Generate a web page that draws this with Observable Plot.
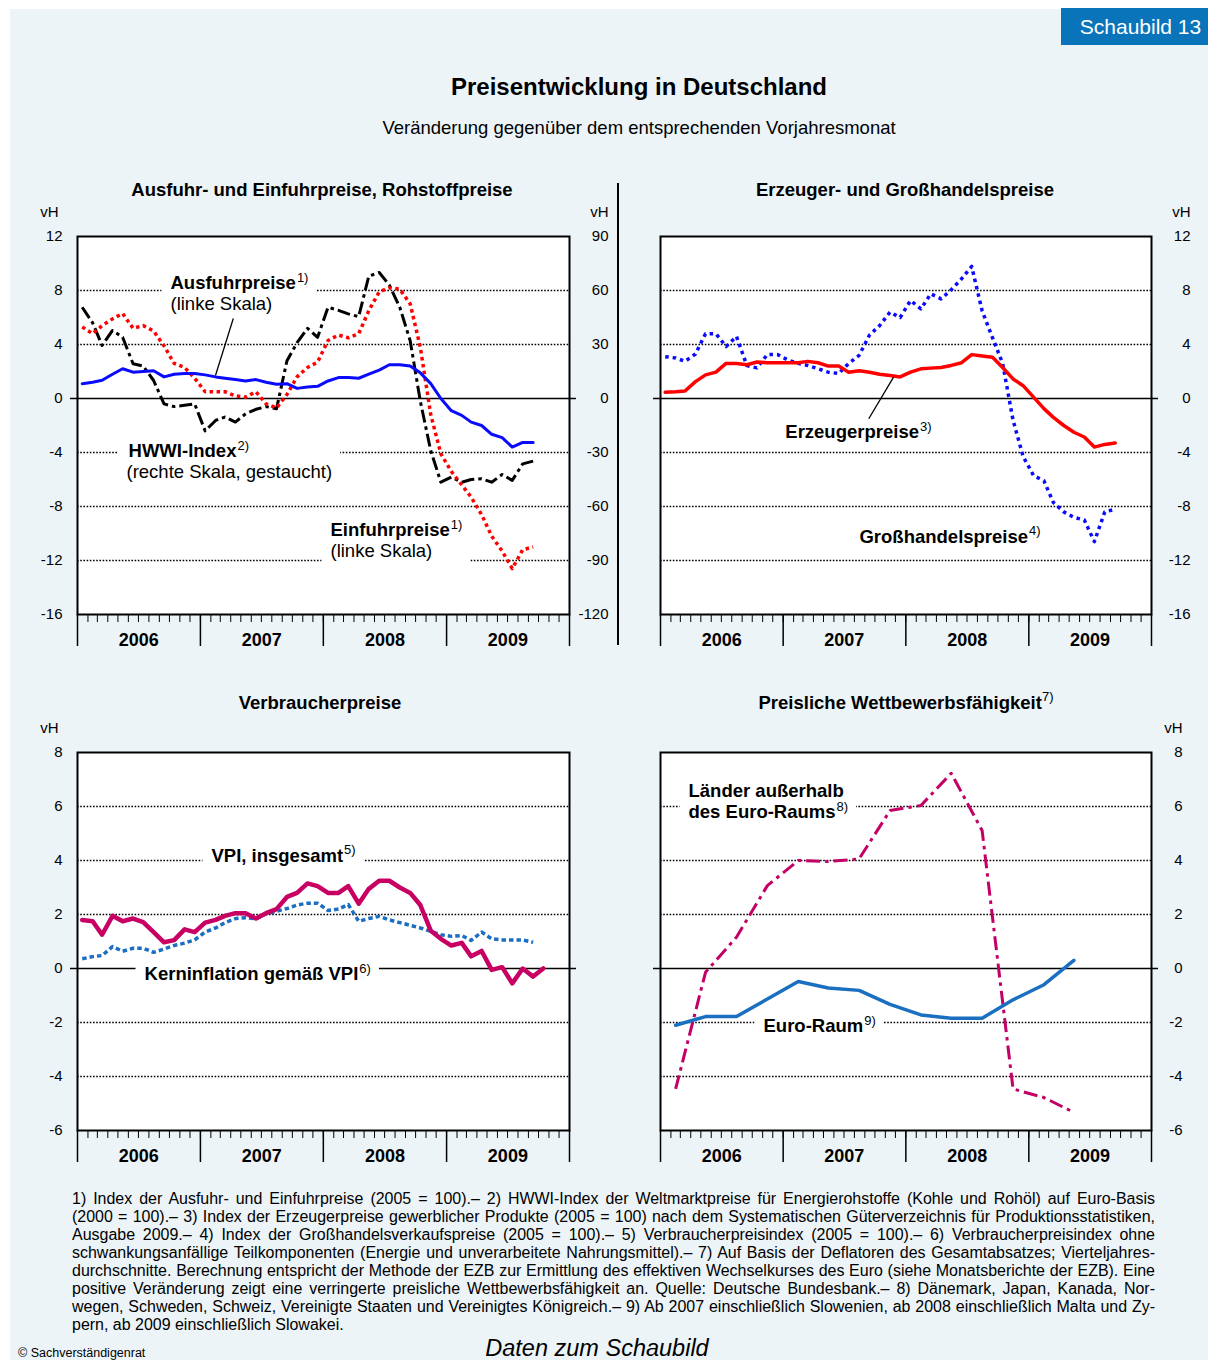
<!DOCTYPE html>
<html lang="de">
<head>
<meta charset="utf-8">
<title>Preisentwicklung in Deutschland</title>
<script src="https://cdn.jsdelivr.net/npm/d3@7"></script>
<script src="https://cdn.jsdelivr.net/npm/@observablehq/plot@0.6"></script>
<style>
  html, body { margin: 0; padding: 0; background: #fff; }
  body { font-family: "Liberation Sans", Arial, Helvetica, sans-serif; color: #000; }
  #page { position: relative; width: 1208px; height: 1360px; overflow: hidden; background: #fff; }
  #bg { position: absolute; left: 10px; top: 9px; width: 1198px; height: 1351px; background: #ecf4f8; }
  .abs { position: absolute; line-height: 1; white-space: nowrap; }
  #badge { position: absolute; left: 1061px; top: 8px; width: 147px; height: 37px; background: #0a74ba; color: #fff; font-size: 21px; line-height: 37px; text-align: center; box-sizing: border-box; padding-left: 12px; }
  #title { left: 239px; width: 800px; top: 74.7px; font-size: 24px; font-weight: bold; text-align: center; }
  #subtitle { left: 239px; width: 800px; top: 119.3px; font-size: 18.5px; text-align: center; }
  .ptitle { width: 600px; font-size: 18.5px; font-weight: bold; text-align: center; }
  .ptitle sup { font-size: 13px; font-weight: normal; vertical-align: 0; position: relative; top: -8px; }
  #sep { position: absolute; left: 617px; top: 183px; width: 1.5px; height: 462px; background: #000; }
  .panel { position: absolute; }
  #notes { position: absolute; left: 72px; top: 1190px; width: 1083px; font-size: 15px; color: #000; }
  .nl { height: 18px; line-height: 18px; overflow: visible; }
  .nl.measure { white-space: nowrap; }
  .nl.j { text-align: justify; text-align-last: justify; }
  #copy { left: 18px; top: 1347.4px; font-size: 12.5px; }
  #daten { left: 397px; width: 400px; top: 1336.5px; font-size: 23.5px; font-style: italic; text-align: center; }
</style>
</head>
<body>
<div id="page">
  <div id="bg"></div>
  <div id="badge">Schaubild 13</div>
  <div id="title" class="abs">Preisentwicklung in Deutschland</div>
  <div id="subtitle" class="abs">Veränderung gegenüber dem entsprechenden Vorjahresmonat</div>
  <div class="abs ptitle" style="left:22px;top:181.3px;">Ausfuhr- und Einfuhrpreise, Rohstoffpreise</div>
  <div class="abs ptitle" style="left:605px;top:181.3px;">Erzeuger- und Großhandelspreise</div>
  <div class="abs ptitle" style="left:20px;top:694.3px;">Verbraucherpreise</div>
  <div class="abs ptitle" style="left:606px;top:694.3px;">Preisliche Wettbewerbsfähigkeit<sup>7)</sup></div>
  <div id="sep"></div>
  <div id="p1" class="panel" style="left:0px;top:200px;"></div>
  <div id="p2" class="panel" style="left:620px;top:200px;"></div>
  <div id="p3" class="panel" style="left:0px;top:716px;"></div>
  <div id="p4" class="panel" style="left:620px;top:716px;"></div>
  <div id="notes"></div>
  <div id="copy" class="abs">© Sachverständigenrat</div>
  <div id="daten" class="abs">Daten zum Schaubild</div>
</div>
<script>
// ---------------- data ----------------
const yearLabels = ["2006", "2007", "2008", "2009"];
const ticksTop = [12, 8, 4, 0, -4, -8, -12, -16];
const ticksHWWI = [90, 60, 30, 0, -30, -60, -90, -120];
const ticksBottom = [8, 6, 4, 2, 0, -2, -4, -6];
const gridTop = [8, 4, -4, -8, -12];
const gridBottom = [6, 4, 2, -2, -4];

// monthly, Jan 2006 ... (vH)
const ausfuhr = [1.1, 1.2, 1.35, 1.8, 2.2, 1.95, 2.0, 2.05, 1.6, 1.8, 1.85, 1.85,
  1.75, 1.6, 1.5, 1.4, 1.3, 1.4, 1.2, 1.05, 1.1, 0.75, 0.85, 0.9,
  1.3, 1.55, 1.55, 1.5, 1.8, 2.1, 2.5, 2.5, 2.4, 1.9, 1.1, 0.0,
  -0.9, -1.25, -1.75, -2.0, -2.65, -2.9, -3.6, -3.25, -3.25];
const einfuhr = [5.3, 4.8, 5.4, 5.9, 6.3, 5.2, 5.4, 5.0, 3.9, 2.6, 2.3, 1.5,
  0.5, 0.5, 0.5, 0.2, 0.1, 0.5, -0.4, -0.7, 0.3, 1.6, 2.3, 2.7,
  4.3, 4.7, 4.5, 4.8, 6.5, 7.9, 8.2, 8.1, 7.0, 3.8, -1.2, -4.1,
  -5.4, -6.4, -7.3, -8.6, -10.2, -11.3, -12.6, -11.2, -11.0];
const hwwi = [50.7, 42, 29.5, 37.8, 34, 19.3, 18, 10, -3, -4.5, -3.8, -3,
  -18, -12.2, -10.3, -13.1, -8.5, -6, -4.5, -5.7, 21, 31, 39, 34,
  50.7, 49, 47, 45.5, 68, 70, 63, 50.7, 32, -1.5, -29, -46.5,
  -43.7, -46.5, -45, -44.6, -46.5, -42.2, -45.5, -36.3, -34.8];
const erzeuger = [0.47, 0.5, 0.55, 1.25, 1.75, 1.95, 2.6, 2.6, 2.5, 2.7, 2.65, 2.65,
  2.65, 2.65, 2.75, 2.65, 2.4, 2.4, 1.95, 2.05, 1.95, 1.8, 1.7, 1.6,
  1.95, 2.2, 2.25, 2.3, 2.45, 2.65, 3.25, 3.15, 3.05, 2.3, 1.45, 0.95,
  0.1, -0.75, -1.4, -2.0, -2.5, -2.85, -3.6, -3.4, -3.3];
const grosshandel = [3.1, 3.0, 2.75, 3.3, 4.8, 4.8, 3.85, 4.6, 2.44, 2.27, 3.26, 3.26,
  2.85, 2.6, 2.45, 2.2, 1.95, 1.85, 2.6, 3.2, 4.7, 5.4, 6.4, 6.0,
  7.26, 6.64, 7.75, 7.38, 8.05, 8.87, 9.78, 6.5, 4.5, 2.6, -1.6, -4.3,
  -5.7, -6.1, -7.7, -8.4, -8.8, -9.0, -10.6, -8.4, -8.2];
const vpi = [1.8, 1.75, 1.25, 1.95, 1.75, 1.85, 1.72, 1.35, 0.97, 1.05, 1.45, 1.35,
  1.7, 1.8, 1.95, 2.05, 2.05, 1.85, 2.05, 2.2, 2.65, 2.8, 3.15, 3.05,
  2.8, 2.8, 3.05, 2.4, 2.95, 3.25, 3.25, 3.0, 2.8, 2.35, 1.4, 1.1,
  0.85, 0.95, 0.45, 0.65, -0.05, 0.05, -0.55, 0.0, -0.3, 0.0];
const kern = [0.36, 0.44, 0.48, 0.81, 0.64, 0.75, 0.75, 0.6, 0.72, 0.85, 0.94, 1.06,
  1.35, 1.5, 1.7, 1.85, 1.88, 1.84, 2.03, 2.12, 2.22, 2.35, 2.42, 2.42,
  2.15, 2.2, 2.37, 1.75, 1.85, 1.93, 1.8, 1.7, 1.6, 1.5, 1.38, 1.25,
  1.19, 1.22, 1.04, 1.35, 1.1, 1.06, 1.06, 1.06, 0.97];
// quarterly, 1. Vj 2006 ...
const euroRaum = [-2.1, -1.78, -1.78, -1.13, -0.48, -0.72, -0.81, -1.33, -1.72, -1.84, -1.84, -1.16, -0.6, 0.3];
const aussen = [-4.46, -0.14, 1.16, 3.07, 4.0, 3.96, 4.06, 5.85, 6.04, 7.23, 5.11, -4.46, -4.78, -5.33];

const noteLines = [
  "1) Index der Ausfuhr- und Einfuhrpreise (2005 = 100).– 2) HWWI-Index der Weltmarktpreise für Energierohstoffe (Kohle und Rohöl) auf Euro-Basis",
  "(2000 = 100).– 3) Index der Erzeugerpreise gewerblicher Produkte (2005 = 100) nach dem Systematischen Güterverzeichnis für Produktionsstatistiken,",
  "Ausgabe 2009.– 4) Index der Großhandelsverkaufspreise (2005 = 100).– 5) Verbraucherpreisindex (2005 = 100).– 6) Verbraucherpreisindex ohne",
  "schwankungsanfällige Teilkomponenten (Energie und unverarbeitete Nahrungsmittel).– 7) Auf Basis der Deflatoren des Gesamtabsatzes; Vierteljahres-",
  "durchschnitte. Berechnung entspricht der Methode der EZB zur Ermittlung des effektiven Wechselkurses des Euro (siehe Monatsberichte der EZB). Eine",
  "positive Veränderung zeigt eine verringerte preisliche Wettbewerbsfähigkeit an. Quelle: Deutsche Bundesbank.– 8) Dänemark, Japan, Kanada, Nor-",
  "wegen, Schweden, Schweiz, Vereinigte Staaten und Vereinigtes Königreich.– 9) Ab 2007 einschließlich Slowenien, ab 2008 einschließlich Malta und Zy-",
  "pern, ab 2009 einschließlich Slowakei."
];

// annotation placement (month offset from Jan 2006, value on left scale)
const annP1 = [
  {block: "a", m: 9.07, v: 8.54, label: "Ausfuhrpreise^1)", bold: true},
  {block: "a", m: 9.07, v: 6.99, label: "(linke Skala)", bold: false},
  {block: "h", m: 4.98, v: -3.9, label: "HWWI-Index^2)", bold: true},
  {block: "h", m: 4.78, v: -5.46, label: "(rechte Skala, gestaucht)", bold: false},
  {block: "e", m: 24.68, v: -9.76, label: "Einfuhrpreise^1)", bold: true},
  {block: "e", m: 24.68, v: -11.31, label: "(linke Skala)", bold: false}
];
const linkP1 = [{m1: 15.2, v1: 5.93, m2: 13.46, v2: 1.7}];
const annP2 = [
  {block: "e", m: 12.2, v: -2.5, label: "Erzeugerpreise^3)", bold: true},
  {block: "g", m: 19.45, v: -10.25, label: "Großhandelspreise^4)", bold: true}
];
const linkP2 = [{m1: 20.36, v1: -1.5, m2: 22.8, v2: 1.6}];
const annP3 = [
  {block: "v", m: 13.07, v: 4.17, label: "VPI, insgesamt^5)", bold: true},
  {block: "k", m: 6.54, v: -0.21, label: "Kerninflation gemäß VPI^6)", bold: true}
];
const annP4 = [
  {block: "l", m: 2.74, v: 6.57, label: "Länder außerhalb", bold: true},
  {block: "l", m: 2.74, v: 5.79, label: "des Euro-Raums^8)", bold: true},
  {block: "r", m: 10.07, v: -2.14, label: "Euro-Raum^9)", bold: true}
];

// ---------------- helpers ----------------
const FONT = '"Liberation Sans", Arial, Helvetica, sans-serif';
const T0 = Date.UTC(2006, 0, 1);
const monthDate = i => new Date(Date.UTC(2006, i, 15));
const quarterDate = i => new Date(Date.UTC(2006, 3 * i + 1, 15));
const atMonth = m => new Date(T0 + m * 30.4375 * 864e5);
const rows = (arr, dateFn) => arr.map((v, i) => ({date: dateFn(i), value: v}));
const monthTicks = d3.utcMonths(new Date(Date.UTC(2006, 0, 1)), new Date(Date.UTC(2010, 0, 2)));
const yearStarts = [2006, 2007, 2008, 2009, 2010].map(y => new Date(Date.UTC(y, 0, 1)));

function series(arr, dateFn, style, scale = 1) {
  return Plot.line(rows(arr, dateFn), {x: "date", y: d => d.value / scale, curve: "linear", ...style});
}

function buildPanel(cfg) {
  const tickText = [];
  if (cfg.leftTicks) {
    tickText.push(Plot.text(cfg.leftTicks, {y: d => d / (cfg.leftScale || 1), text: d => String(d), frameAnchor: "left", lineAnchor: "middle", dx: -15, textAnchor: "end", fontSize: 15}));
    tickText.push(Plot.text(["vH"], {text: d => d, frameAnchor: "top-left", lineAnchor: "middle", dx: -19, dy: -24, textAnchor: "end", fontSize: 15}));
  }
  if (cfg.rightTicks) {
    tickText.push(Plot.text(cfg.rightTicks, {y: d => d / (cfg.rightScale || 1), text: d => String(d), frameAnchor: "right", lineAnchor: "middle", dx: cfg.rightDx, textAnchor: "end", fontSize: 15}));
    tickText.push(Plot.text(["vH"], {text: d => d, frameAnchor: "top-right", lineAnchor: "middle", dx: cfg.rightDx, dy: -24, textAnchor: "end", fontSize: 15}));
  }
  const marks = [
    Plot.frame({fill: "white", stroke: "none"}),
    Plot.ruleY(cfg.grid, {stroke: "#000", strokeWidth: 1.6, strokeDasharray: "1.6,1.6"}),
    Plot.ruleY([0], {stroke: "#000", strokeWidth: 1.6, insetLeft: -7, insetRight: -7}),
    ...cfg.lines,
    Plot.link(cfg.links || [], {x1: d => atMonth(d.m1), y1: "v1", x2: d => atMonth(d.m2), y2: "v2", stroke: "#000", strokeWidth: 1.3}),
    Plot.text(cfg.annots.filter(d => d.bold), {x: d => atMonth(d.m), y: "v", text: "label", textAnchor: "start", lineAnchor: "middle", fontWeight: "bold", fontSize: 18.5}),
    Plot.text(cfg.annots.filter(d => !d.bold), {x: d => atMonth(d.m), y: "v", text: "label", textAnchor: "start", lineAnchor: "middle", fontWeight: "normal", fontSize: 18.5}),
    Plot.frame({stroke: "#000", strokeWidth: 2}),
    Plot.axisX({ticks: monthTicks, tickSize: 8, tickFormat: () => "", label: null, strokeWidth: 1}),
    Plot.axisX({ticks: yearStarts, tickSize: 32, tickFormat: () => "", label: null, strokeWidth: 1.5}),
    Plot.text(yearLabels, {x: d => new Date(Date.UTC(+d, 6, 2)), text: d => d, frameAnchor: "bottom", lineAnchor: "top", dy: 19, fontWeight: "bold", fontSize: 18}),
    ...tickText
  ];
  const svg = Plot.plot({
    width: cfg.width, height: 460,
    marginLeft: cfg.marginLeft, marginRight: cfg.marginRight, marginTop: 36, marginBottom: 46,
    x: {type: "utc", domain: [new Date(Date.UTC(2006, 0, 1)), new Date(Date.UTC(2010, 0, 1))], label: null},
    y: {domain: cfg.yDomain, axis: null, label: null},
    style: {fontFamily: FONT, fontSize: "15px", background: "transparent", color: "#000", overflow: "visible"},
    marks
  });
  document.getElementById(cfg.el).appendChild(svg);
  finishPanel(svg, cfg.annots);
}

function finishPanel(svg, annots) {
  const NS = "http://www.w3.org/2000/svg";
  const texts = [...svg.querySelectorAll("text")];
  texts.forEach(t => {
    if (t.children.length) return;
    const s = t.textContent;
    const i = s.indexOf("^");
    if (i < 0) return;
    t.textContent = s.slice(0, i);
    const sup = document.createElementNS(NS, "tspan");
    sup.setAttribute("font-weight", "normal");
    sup.setAttribute("font-size", "13");
    sup.setAttribute("dy", "-0.58em");
    sup.setAttribute("dx", "1");
    sup.textContent = s.slice(i + 1);
    t.appendChild(sup);
  });
  const sb = svg.getBoundingClientRect();
  const used = new Set();
  const blocks = new Map();
  annots.forEach(a => {
    const want = a.label.replace("^", "");
    const t = texts.find(el => !used.has(el) && el.textContent === want);
    if (!t) return;
    used.add(t);
    const b = t.getBoundingClientRect();
    const r = blocks.get(a.block) || {x1: Infinity, y1: Infinity, x2: -Infinity, y2: -Infinity};
    r.x1 = Math.min(r.x1, b.left - sb.left);
    r.y1 = Math.min(r.y1, b.top - sb.top);
    r.x2 = Math.max(r.x2, b.right - sb.left);
    r.y2 = Math.max(r.y2, b.bottom - sb.top);
    blocks.set(a.block, r);
  });
  const g = document.createElementNS(NS, "g");
  for (const r of blocks.values()) {
    const rect = document.createElementNS(NS, "rect");
    rect.setAttribute("x", r.x1 - 9);
    rect.setAttribute("y", r.y1 - 1);
    rect.setAttribute("width", r.x2 - r.x1 + 17);
    rect.setAttribute("height", r.y2 - r.y1 + 4);
    rect.setAttribute("fill", "white");
    g.appendChild(rect);
  }
  const kids = [...svg.children].filter(c => c.tagName.toLowerCase() !== "style");
  if (kids[2]) kids[2].after(g);
}

// ---------------- panels ----------------
buildPanel({
  el: "p1", width: 620, marginLeft: 77, marginRight: 51, yDomain: [-16, 12], grid: gridTop,
  leftTicks: ticksTop, rightTicks: ticksHWWI, rightScale: 7.5, rightDx: 39,
  lines: [
    series(hwwi, monthDate, {stroke: "#000", strokeWidth: 3, strokeDasharray: "13,4,3.5,4", strokeLinecap: "butt"}, 7.5),
    series(einfuhr, monthDate, {stroke: "#ff0000", strokeWidth: 3.5, strokeDasharray: "3.5,3.5", strokeLinecap: "butt"}),
    series(ausfuhr, monthDate, {stroke: "#0a0aff", strokeWidth: 3})
  ],
  links: linkP1, annots: annP1
});
buildPanel({
  el: "p2", width: 588, marginLeft: 40, marginRight: 57, yDomain: [-16, 12], grid: gridTop,
  rightTicks: ticksTop, rightDx: 39,
  lines: [
    series(grosshandel, monthDate, {stroke: "#0a0aff", strokeWidth: 3.5, strokeDasharray: "3.5,4", strokeLinecap: "butt"}),
    series(erzeuger, monthDate, {stroke: "#ff0000", strokeWidth: 3.5})
  ],
  links: linkP2, annots: annP2
});
buildPanel({
  el: "p3", width: 620, marginLeft: 77, marginRight: 51, yDomain: [-6, 8], grid: gridBottom,
  leftTicks: ticksBottom,
  lines: [
    series(kern, monthDate, {stroke: "#1b6fc2", strokeWidth: 3.5, strokeDasharray: "4.5,3", strokeLinecap: "butt"}),
    series(vpi, monthDate, {stroke: "#c80064", strokeWidth: 4.5})
  ],
  annots: annP3
});
buildPanel({
  el: "p4", width: 588, marginLeft: 40, marginRight: 57, yDomain: [-6, 8], grid: gridBottom,
  rightTicks: ticksBottom, rightDx: 31,
  lines: [
    series(aussen, quarterDate, {stroke: "#c20066", strokeWidth: 3, strokeDasharray: "14,5,3.5,5", strokeLinecap: "butt"}),
    series(euroRaum, quarterDate, {stroke: "#1a6fc0", strokeWidth: 3.5})
  ],
  annots: annP4
});

// ---------------- footnotes ----------------
const notes = document.getElementById("notes");
noteLines.forEach(s => {
  const d = document.createElement("div");
  d.className = "nl measure";
  const sp = document.createElement("span");
  sp.textContent = s;
  d.appendChild(sp);
  notes.appendChild(d);
});
let maxW = 0;
notes.querySelectorAll("span").forEach(sp => { maxW = Math.max(maxW, sp.getBoundingClientRect().width); });
if (maxW > 0) notes.style.fontSize = Math.min(16.5, 15 * 1078 / maxW) + "px";
[...notes.children].forEach((d, i) => {
  d.classList.remove("measure");
  if (i < noteLines.length - 1) d.classList.add("j");
});
</script>
</body>
</html>
